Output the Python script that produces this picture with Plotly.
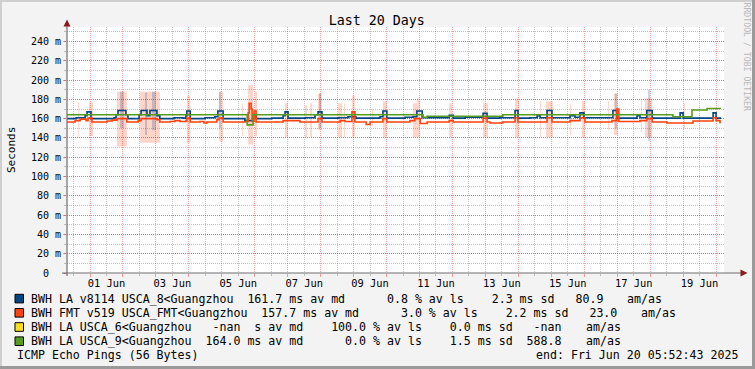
import plotly.graph_objects as go
from datetime import datetime, timedelta

# ---------------- data (time = day of June 2025, fractional; values in ms) ----------------
blue_days = [0.30, 0.58, 0.85, 0.91, 1.03, 1.73, 1.79, 1.85, 2.09, 2.15, 2.49, 2.55, 2.73, 2.82, 3.03,
             3.12, 3.55, 3.82, 3.91, 3.94, 4.04, 4.49, 4.79, 4.88, 5.04, 5.70, 5.95, 6.04, 6.52, 6.86,
             6.92, 7.01, 7.53, 7.83, 7.92, 8.04, 8.53, 8.83, 9.07, 9.80, 9.89, 10.01, 10.56, 10.80,
             10.92, 11.08, 11.90, 12.02, 12.38, 12.93, 13.05, 13.44, 13.90, 13.99, 14.35, 14.57, 14.66,
             14.87, 15.02, 15.57, 15.72, 15.87, 15.99, 16.87, 16.99, 17.60, 17.69, 17.90, 18.06, 18.91,
             19.00, 19.91, 20.00, 20.15]
blue_ms = [160, 161, 163, 167, 160, 161, 164, 168.5, 164, 160, 164, 168.5, 163, 168.5, 163,
           160, 161, 160.5, 163, 168, 160, 161, 162, 168, 160, 158, 164, 160, 160.5, 163,
           167, 160.5, 161, 164, 167, 160.5, 161, 162, 160.5, 162, 168, 160.5, 161.5, 162,
           168, 161, 163.5, 160.5, 161.5, 165.5, 160.5, 161, 168.5, 160.5, 161, 163, 161,
           168.5, 161, 163, 161.5, 166, 161, 168.5, 160.5, 163, 161, 168.5, 160.5, 166,
           160.5, 166, 160.5, 160.5]

orange_days = [0.30, 0.55, 0.70, 0.88, 0.94, 1.06, 1.52, 1.67, 1.82, 2.12, 2.46, 2.55, 3.03, 3.12,
               3.43, 3.58, 3.73, 3.91, 3.94, 4.04, 4.34, 4.46, 4.55, 4.85, 4.92, 5.04, 5.73, 5.80,
               5.83, 5.89, 5.92, 5.98, 6.04, 6.86, 7.37, 7.92, 8.04, 8.59, 8.74, 8.95, 9.04, 9.38,
               9.50, 9.89, 10.01, 10.71, 10.86, 11.02, 11.23, 11.90, 12.02, 12.93, 13.05, 13.14,
               13.53, 13.90, 13.99, 14.87, 15.02, 15.57, 15.87, 16.02, 16.84, 16.99, 17.05, 17.69,
               17.90, 18.06, 18.51, 19.30, 19.91, 20.00, 20.12, 20.15]
orange_ms = [156.5, 158, 159.5, 158, 160.5, 156.5, 157.5, 158.5, 160, 156.5, 158, 160, 159, 156.5,
             157, 158, 157, 158, 160.5, 156.5, 157, 155.5, 156.5, 159, 160.5, 156.5, 157, 166,
             176, 170, 157, 168, 156.5, 158, 156.5, 160, 156.5, 158, 157, 167, 156.5, 154,
             156.5, 160, 156.5, 158, 160, 155, 156.5, 158, 156.5, 160.5, 156.5, 155.5,
             156.5, 161, 156.5, 161, 156.5, 158, 161, 156.5, 158, 170, 157, 158,
             160, 156.5, 155.5, 157.5, 161, 158, 156, 156]

green_days = [0.30, 5.77, 5.95, 11.11, 11.23, 13.53, 18.69, 19.27, 19.73, 20.15]
green_ms = [164, 153.5, 164, 161.5, 162.5, 164, 162, 169, 170.5, 170.5]

# USCA_6 reported no answers at all (-nan): an empty series
yellow_days = [0.30, 20.15]
yellow_ms = [None, None]

# smoke (ping spread): start day, end day, low ms, high ms
orange_smoke_start = [0.64, 0.97, 1.82, 2.52, 3.94, 4.92, 5.61, 5.80, 6.01, 6.92, 7.53, 7.68, 7.92, 8.53,
                      8.71, 8.95, 9.56, 9.89, 10.80, 10.92, 11.90, 12.93, 13.90, 14.66, 14.84, 15.57,
                      15.93, 16.72, 16.90, 17.72, 17.84, 19.03]
orange_smoke_end = [0.67, 1.09, 2.12, 3.12, 4.04, 5.04, 5.64, 5.95, 6.07, 7.01, 7.59, 7.74, 8.04, 8.65,
                    8.74, 9.04, 9.59, 10.01, 10.92, 11.02, 11.99, 13.08, 14.02, 14.69, 15.05, 15.60,
                    16.02, 16.75, 17.02, 17.75, 18.06, 19.06]
orange_smoke_lo = [141, 142, 131, 135, 135, 136, 142, 133, 142, 141, 141, 141, 148, 141,
                   141, 141, 153, 141, 141, 141, 141, 141, 141, 141, 141, 143,
                   141, 148, 143, 146, 141, 149]
orange_smoke_hi = [177, 177, 188, 188, 184, 188, 176, 195, 188, 176, 174, 176, 186, 176,
                   176, 184, 170, 178, 176, 181, 176, 176, 181, 178, 178, 176,
                   178, 178, 186, 181, 181, 176]

blue_smoke_start = [1.91, 2.67, 2.88, 4.91, 7.95, 16.93, 17.93]
blue_smoke_end = [2.03, 2.73, 3.00, 4.97, 8.01, 16.99, 18.00]
blue_smoke_lo = [150, 143, 148, 150, 150, 150, 137]
blue_smoke_hi = [188, 187, 188, 188, 186, 186, 190]

tick_days = [1.5, 3.5, 5.5, 7.5, 9.5, 11.5, 13.5, 15.5, 17.5, 19.5]
tick_labels = ["01 Jun", "03 Jun", "05 Jun", "07 Jun", "09 Jun", "11 Jun", "13 Jun", "15 Jun", "17 Jun", "19 Jun"]
y_tick_vals = [0, 20, 40, 60, 80, 100, 120, 140, 160, 180, 200, 220, 240]
y_tick_text = ["0\u00a0\u00a0", "20 m", "40 m", "60 m", "80 m", "100 m", "120 m", "140 m", "160 m",
               "180 m", "200 m", "220 m", "240 m"]

legend_rows = [
    "BWH LA v8114 USCA_8<Guangzhou  161.7 ms av md      0.8 % av ls    2.3 ms sd   80.9",
    "BWH FMT v519 USCA_FMT<Guangzhou  157.7 ms av md      3.0 % av ls    2.2 ms sd   23.0",
    "BWH LA USCA_6<Guangzhou   -nan  s av md    100.0 % av ls    0.0 ms sd   -nan",
    "BWH LA USCA_9<Guangzhou  164.0 ms av md      0.0 % av ls    1.5 ms sd  588.8",
]
legend_unit = "am/as"
legend_colors = ["#004586", "#ff420e", "#ffde20", "#579d1c"]

# ---------------- helpers ----------------
def to_dt(d):
    return datetime(2025, 6, 1) + timedelta(days=d - 1)

W, H = 755, 369
L, R, T, B = 67, 724, 27, 273


def px(x):
    return (x - L) / (R - L)


def py(y):
    return (B - y) / (B - T)


MONO = "DejaVu Sans Mono"
DAY_MS = 86400000

fig = go.Figure()


def add_smoke(starts, ends, lo, hi, color):
    fig.add_trace(go.Bar(
        x=[to_dt((a + b) / 2) for a, b in zip(starts, ends)],
        y=[h - l for l, h in zip(lo, hi)],
        base=lo,
        width=[(b - a) * DAY_MS for a, b in zip(starts, ends)],
        marker=dict(color=color, line=dict(width=0)),
        showlegend=False, hoverinfo="skip"))


add_smoke(orange_smoke_start, orange_smoke_end, orange_smoke_lo, orange_smoke_hi, "rgba(255,66,14,0.22)")
add_smoke(blue_smoke_start, blue_smoke_end, blue_smoke_lo, blue_smoke_hi, "rgba(0,69,134,0.22)")

for days, vals, col in [(blue_days, blue_ms, legend_colors[0]),
                        (orange_days, orange_ms, legend_colors[1]),
                        (green_days, green_ms, legend_colors[3])]:
    fig.add_trace(go.Scatter(x=[to_dt(d) for d in days], y=vals, mode="lines",
                             line=dict(color=col, width=1.6, shape="hv"),
                             showlegend=False, hoverinfo="skip"))

# the empty USCA_6 series lives on the labelled time axis
fig.add_trace(go.Scatter(x=[to_dt(d) for d in yellow_days], y=yellow_ms, mode="lines",
                         line=dict(color=legend_colors[2], width=1.6), xaxis="x2",
                         showlegend=False, hoverinfo="skip"))

x_range = [to_dt(0.302), to_dt(20.2413)]
MAJ = "rgba(255,0,0,0.38)"
MIN = "rgba(120,120,120,0.45)"

fig.update_layout(
    width=W, height=H,
    margin=dict(l=L, r=W - R, t=T, b=H - B, pad=0),
    paper_bgcolor="#f3f3f3", plot_bgcolor="#ffffff",
    barmode="overlay", showlegend=False,
    font=dict(family=MONO, size=10, color="#000000"),
    title=dict(text="Last 20 Days", x=376.7 / W, y=1 - 20 / H, xref="container", yref="container",
               xanchor="center", yanchor="middle", font=dict(family=MONO, size=13.3, color="#000")),
    xaxis=dict(type="date", range=x_range, showticklabels=False,
               tick0="2025-06-01", dtick=DAY_MS, showgrid=True, gridcolor=MAJ, griddash="1px,1px",
               gridwidth=1, ticks="outside", ticklen=3, tickcolor=MAJ,
               minor=dict(dtick=DAY_MS / 2, tick0="2025-06-01", showgrid=True, gridcolor=MIN,
                          griddash="1px,1px", ticks="outside", ticklen=2, tickcolor=MIN),
               showline=False, zeroline=False),
    xaxis2=dict(type="date", range=x_range, overlaying="x", anchor="y", side="bottom",
                tickvals=[to_dt(d) for d in tick_days], ticktext=tick_labels,
                showgrid=False, ticks="", showline=False, zeroline=False, ticklabelstandoff=3,
                tickfont=dict(family=MONO, size=10.4, color="#000")),
    yaxis=dict(range=[0, 255], tickvals=y_tick_vals, ticktext=y_tick_text,
               showgrid=True, gridcolor=MAJ, griddash="1px,1px", gridwidth=1,
               ticks="outside", ticklen=3, tickcolor=MAJ,
               minor=dict(dtick=10, tick0=0, showgrid=True, gridcolor=MIN, griddash="1px,1px",
                          ticks="outside", ticklen=2, tickcolor=MIN),
               zeroline=False, showline=False,
               tickfont=dict(family=MONO, size=10, color="#000")),
)

shapes = []
# axes lines
shapes.append(dict(type="line", xref="paper", yref="paper", x0=px(L), x1=px(L), y0=py(276), y1=py(22),
                   line=dict(color="#6f6f6f", width=1.2)))
shapes.append(dict(type="line", xref="paper", yref="paper", x0=px(62), x1=px(741), y0=py(B), y1=py(B),
                   line=dict(color="#6f6f6f", width=1.2)))
# arrows
shapes.append(dict(type="path", xref="paper", yref="paper",
                   path=f"M {px(63.5)} {py(26.5)} L {px(70.5)} {py(26.5)} L {px(67)} {py(19.5)} Z",
                   fillcolor="#8b1a1a", line=dict(width=0)))
shapes.append(dict(type="path", xref="paper", yref="paper",
                   path=f"M {px(740.5)} {py(269.5)} L {px(740.5)} {py(276.5)} L {px(747.5)} {py(B)} Z",
                   fillcolor="#8b1a1a", line=dict(width=0)))
# frame
shapes.append(dict(type="rect", xref="paper", yref="paper", x0=px(0), x1=px(W), y0=py(0), y1=py(2),
                   fillcolor="#cfcfcf", line=dict(width=0)))
shapes.append(dict(type="rect", xref="paper", yref="paper", x0=px(0), x1=px(2), y0=py(0), y1=py(H),
                   fillcolor="#cfcfcf", line=dict(width=0)))
shapes.append(dict(type="rect", xref="paper", yref="paper", x0=px(0), x1=px(W), y0=py(366), y1=py(H),
                   fillcolor="#9a9a9a", line=dict(width=0)))
shapes.append(dict(type="rect", xref="paper", yref="paper", x0=px(752), x1=px(W), y0=py(0), y1=py(H),
                   fillcolor="#9a9a9a", line=dict(width=0)))

annotations = []
LEG_FONT = dict(family=MONO, size=11.6, color="#000")
row_y0, row_dy = 298.6, 14.2
unit_x = [626.0, 639.5, 584.5, 584.5]
for i, (txt, col) in enumerate(zip(legend_rows, legend_colors)):
    yc = row_y0 + i * row_dy
    shapes.append(dict(type="rect", xref="paper", yref="paper", x0=px(15), x1=px(23.5),
                       y0=py(yc - 4.3), y1=py(yc + 4.3), fillcolor=col, line=dict(color="#000", width=1)))
    annotations.append(dict(text=txt.replace(" ", "\u00a0"), xref="paper", yref="paper", x=px(29.5),
                            y=py(yc), xanchor="left", yanchor="middle", showarrow=False, borderpad=0,
                            font=LEG_FONT))
    annotations.append(dict(text=legend_unit, xref="paper", yref="paper", x=px(unit_x[i]),
                            y=py(yc), xanchor="left", yanchor="middle", showarrow=False, borderpad=0,
                            font=LEG_FONT))
yc = row_y0 + 4 * row_dy
annotations.append(dict(text="ICMP Echo Pings (56 Bytes)".replace(" ", "\u00a0"), xref="paper", yref="paper",
                        x=px(15.5), y=py(yc), xanchor="left", yanchor="middle", showarrow=False, borderpad=0,
                        font=LEG_FONT))
annotations.append(dict(text="end: Fri Jun 20 05:52:43 2025".replace(" ", "\u00a0"), xref="paper", yref="paper",
                        x=px(739), y=py(yc), xanchor="right", yanchor="middle", showarrow=False, borderpad=0,
                        font=LEG_FONT))
annotations.append(dict(text="Seconds", xref="paper", yref="paper", x=px(11), y=py(150),
                        xanchor="center", yanchor="middle", textangle=-90, showarrow=False, borderpad=0,
                        font=dict(family=MONO, size=11, color="#000")))
annotations.append(dict(text="RRDTOOL / TOBI OETIKER", xref="paper", yref="paper", x=px(746.5), y=py(57),
                        xanchor="center", yanchor="middle", textangle=90, showarrow=False, borderpad=0,
                        font=dict(family=MONO, size=8.2, color="#b8b8b8")))

fig.update_layout(shapes=shapes, annotations=annotations)
fig.write_html("out.html", config={"displayModeBar": False},
               post_script="document.body.style.margin='0';document.body.style.overflow='hidden';")
